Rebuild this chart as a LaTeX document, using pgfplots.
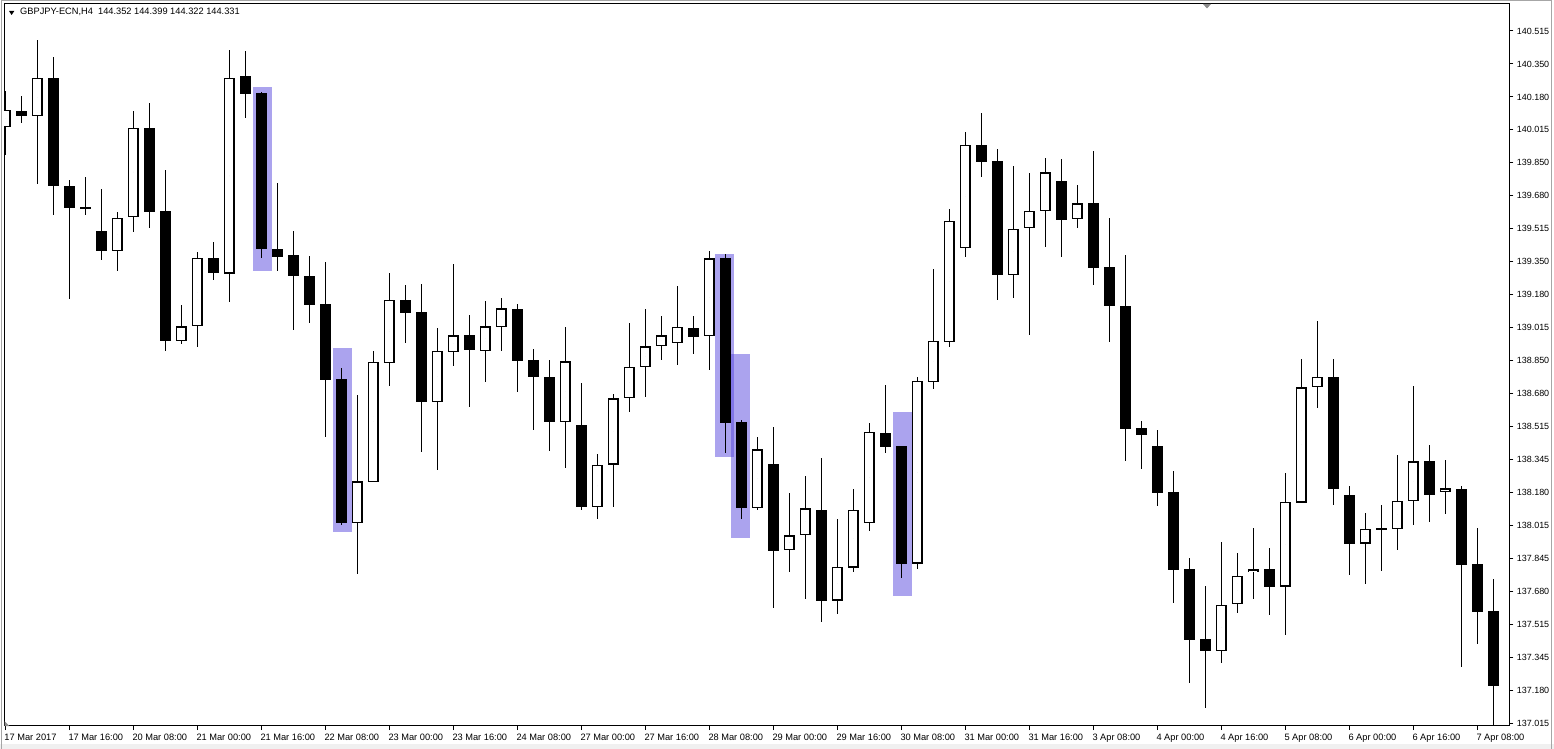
\documentclass[border=0pt]{standalone}
\usepackage{pgfplots}
\pgfplotsset{compat=1.18}
\usepackage{pgfplotstable}
\usepackage{fontspec}
\setmainfont{Liberation Sans}

\definecolor{hl}{RGB}{88,72,222}

% bullish candles (white body)
\pgfplotstableread{
x o h l c
0 140.030 140.212 139.888 140.116
2 140.087 140.470 139.740 140.276
7 139.406 139.600 139.303 139.573
8 139.573 140.111 139.500 140.023
11 138.949 139.130 138.933 139.022
12 139.022 139.398 138.919 139.366
14 139.290 140.419 139.146 140.281
22 138.029 138.675 137.771 138.238
23 138.236 138.897 138.236 138.845
24 138.838 139.292 138.722 139.154
27 138.641 139.014 138.297 138.896
28 138.894 139.337 138.823 138.977
30 138.899 139.150 138.741 139.022
31 139.020 139.165 138.899 139.113
35 138.540 139.019 138.306 138.845
37 138.110 138.377 138.049 138.324
38 138.324 138.680 138.110 138.658
39 138.658 139.039 138.590 138.815
40 138.815 139.110 138.666 138.921
41 138.921 139.074 138.852 138.977
42 138.941 139.226 138.826 139.022
44 138.972 139.403 138.803 139.366
47 138.105 138.462 138.095 138.400
49 137.890 138.178 137.782 137.965
50 137.965 138.266 137.645 138.101
52 137.637 138.047 137.568 137.808
53 137.803 138.199 137.778 138.096
54 138.028 138.531 137.989 138.486
57 137.823 138.768 137.796 138.744
58 138.739 139.312 138.708 138.951
59 138.946 139.616 138.918 139.557
60 139.421 140.004 139.375 139.942
63 139.282 139.833 139.166 139.517
64 139.517 139.797 138.980 139.604
65 139.604 139.872 139.426 139.800
67 139.564 139.736 139.518 139.644
76 137.382 137.932 137.321 137.617
77 137.617 137.876 137.575 137.759
78 137.779 138.003 137.641 137.794
80 137.707 138.280 137.463 138.137
81 138.132 138.857 138.132 138.714
82 138.714 139.049 138.606 138.764
85 137.923 138.078 137.721 137.996
87 137.999 138.371 137.893 138.142
88 138.140 138.720 138.019 138.340
90 138.186 138.346 138.075 138.203
}\bull

% bearish candles (black body)
\pgfplotstableread{
x o h l c
1 140.111 140.185 140.051 140.087
3 140.276 140.384 139.586 139.733
4 139.735 139.765 139.162 139.622
5 139.626 139.777 139.586 139.621
6 139.504 139.716 139.359 139.404
9 140.025 140.151 139.519 139.601
10 139.605 139.812 138.899 138.949
13 139.367 139.448 139.256 139.293
15 140.286 140.414 140.077 140.198
16 140.200 140.207 139.369 139.413
17 139.416 139.745 139.303 139.374
18 139.383 139.507 139.005 139.276
19 139.276 139.378 139.040 139.130
20 139.135 139.347 138.464 138.751
21 138.756 138.811 138.019 138.028
25 139.155 139.231 138.938 139.091
26 139.094 139.236 138.388 138.639
29 138.978 139.079 138.616 138.902
32 139.110 139.135 138.690 138.848
33 138.852 138.907 138.498 138.767
34 138.766 138.852 138.393 138.540
36 138.523 138.735 138.095 138.110
43 139.017 139.074 138.884 138.970
45 139.366 139.388 138.383 138.535
46 138.537 138.548 138.049 138.105
48 138.329 138.513 137.599 137.888
51 138.096 138.356 137.529 137.635
55 138.486 138.725 138.384 138.414
56 138.416 138.416 137.751 137.821
61 139.939 140.101 139.778 139.855
62 139.857 139.918 139.156 139.282
66 139.756 139.868 139.374 139.562
68 139.646 139.909 139.232 139.319
69 139.322 139.569 138.944 139.126
70 139.124 139.383 138.341 138.503
71 138.508 138.543 138.303 138.474
72 138.416 138.497 138.115 138.181
73 138.185 138.290 137.625 137.792
74 137.796 137.851 137.220 137.439
75 137.441 137.709 137.091 137.382
79 137.794 137.902 137.564 137.705
83 138.766 138.857 138.120 138.201
84 138.169 138.215 137.766 137.923
86 138.001 138.119 137.787 137.993
89 138.341 138.422 138.034 138.171
91 138.200 138.215 137.301 137.815
92 137.820 138.002 137.417 137.579
93 137.583 137.745 136.970 137.205
}\bear

\pgfplotsset{
    candle/.style={only marks, mark=*, mark size=0pt,
        mark options={draw=none, fill=none}, forget plot,
        error bars/.cd, y dir=both, y explicit, error mark=none,
        error bar style={#1}},
}

\begin{document}
\begin{tikzpicture}
\useasboundingbox (-4bp,-23bp) rectangle (1550bp,726bp);
% window background and frame
\fill[white] (-4bp,-23bp) rectangle (1550bp,726bp);
\fill[black!6] (-4bp,-23bp) rectangle (1550bp,-18bp);
\draw[black!35, line width=1bp] (-2.5bp,-23bp) -- (-2.5bp,725bp) -- (1547.5bp,725bp) -- (1547.5bp,-23bp);

\begin{axis}[
    at={(0,0)}, anchor=south west,
    scale only axis, width=1505.3bp, height=722bp,
    xmin=-0.08125, xmax=94, ymin=137.0013, ymax=140.6515,
    axis line style={black, line width=1bp},
    tick align=outside, xtick pos=bottom, ytick pos=right,
    yticklabel pos=right,
    major tick length=4bp,
    tick style={black, line width=1bp},
    xtick={0,4,...,92},
    xticklabels={17 Mar 2017, 17 Mar 16:00, 20 Mar 08:00, 21 Mar 00:00, 21 Mar 16:00,
        22 Mar 08:00, 23 Mar 00:00, 23 Mar 16:00, 24 Mar 08:00, 27 Mar 00:00,
        27 Mar 16:00, 28 Mar 08:00, 29 Mar 00:00, 29 Mar 16:00, 30 Mar 08:00,
        31 Mar 00:00, 31 Mar 16:00, 3 Apr 08:00, 4 Apr 00:00, 4 Apr 16:00,
        5 Apr 08:00, 6 Apr 00:00, 6 Apr 16:00, 7 Apr 08:00},
    xticklabel style={font=\fontsize{9.3}{10}\selectfont, anchor=base west,
        inner sep=0pt, xshift=-1bp, yshift=-10.7bp},
    ytick={137.015,137.18167,137.34833,137.515,137.68167,137.84833,
        138.015,138.18167,138.34833,138.515,138.68167,138.84833,
        139.015,139.18167,139.34833,139.515,139.68167,139.84833,
        140.015,140.18167,140.34833,140.515},
    yticklabels={137.015,137.180,137.345,137.515,137.680,137.845,
        138.015,138.180,138.345,138.515,138.680,138.850,
        139.015,139.180,139.350,139.515,139.680,139.850,
        140.015,140.180,140.350,140.515},
    yticklabel style={font=\fontsize{9}{10}\selectfont, anchor=west},
]

% highlight rectangles
\addplot[fill=hl, fill opacity=0.5, draw=none, forget plot]
    coordinates {(15.46,140.2334) (16.67,140.2334) (16.67,139.3031) (15.46,139.3031)} -- cycle;
\addplot[fill=hl, fill opacity=0.5, draw=none, forget plot]
    coordinates {(20.48,138.9124) (21.67,138.9124) (21.67,137.9821) (20.48,137.9821)} -- cycle;
\addplot[fill=hl, fill opacity=0.5, draw=none, forget plot]
    coordinates {(44.36,139.3876) (45.53,139.3876) (45.53,138.3628) (44.36,138.3628)} -- cycle;
\addplot[fill=hl, fill opacity=0.5, draw=none, forget plot]
    coordinates {(45.36,138.8820) (46.53,138.8820) (46.53,137.9533) (45.36,137.9533)} -- cycle;
\addplot[fill=hl, fill opacity=0.5, draw=none, forget plot]
    coordinates {(55.46,138.5888) (56.67,138.5888) (56.67,137.6606) (55.46,137.6606)} -- cycle;

% wicks
\addplot[candle={black, line width=1bp}]
    table[x=x, y expr={(\thisrow{h}+\thisrow{l})/2}, y error expr={(\thisrow{h}-\thisrow{l})/2}] {\bull};
\addplot[candle={black, line width=1bp}]
    table[x=x, y expr={(\thisrow{h}+\thisrow{l})/2}, y error expr={(\thisrow{h}-\thisrow{l})/2}] {\bear};

% bearish bodies
\addplot[candle={black, line width=10.4bp}]
    table[x=x, y expr={(\thisrow{o}+\thisrow{c})/2}, y error expr={abs(\thisrow{o}-\thisrow{c})/2}] {\bear};

% bullish bodies: outline then white inside
\addplot[candle={black, line width=10.4bp}]
    table[x=x, y expr={(\thisrow{o}+\thisrow{c})/2}, y error expr={abs(\thisrow{c}-\thisrow{o})/2}] {\bull};
\addplot[candle={white, line width=8.2bp}]
    table[x=x, y expr={(\thisrow{o}+\thisrow{c})/2}, y error expr={max(abs(\thisrow{c}-\thisrow{o})/2-0.0056,0)}] {\bull};

\end{axis}

% chart caption and small markers
\fill[black] (5bp,715bp) -- (10.3bp,715bp) -- (7.65bp,711bp) -- cycle;
\node[anchor=west, inner sep=0pt, font=\fontsize{9.3}{10}\selectfont] at (16bp,714bp)
    {GBPJPY-ECN,H4\ \ 144.352 144.399 144.322 144.331};
\fill[black!45] (1199bp,722bp) -- (1207bp,722bp) -- (1203bp,717.5bp) -- cycle;
\fill[black!45] (0.7bp,0bp) -- (5.3bp,0bp) -- (0.7bp,4.6bp) -- cycle;
\end{tikzpicture}
\end{document}
